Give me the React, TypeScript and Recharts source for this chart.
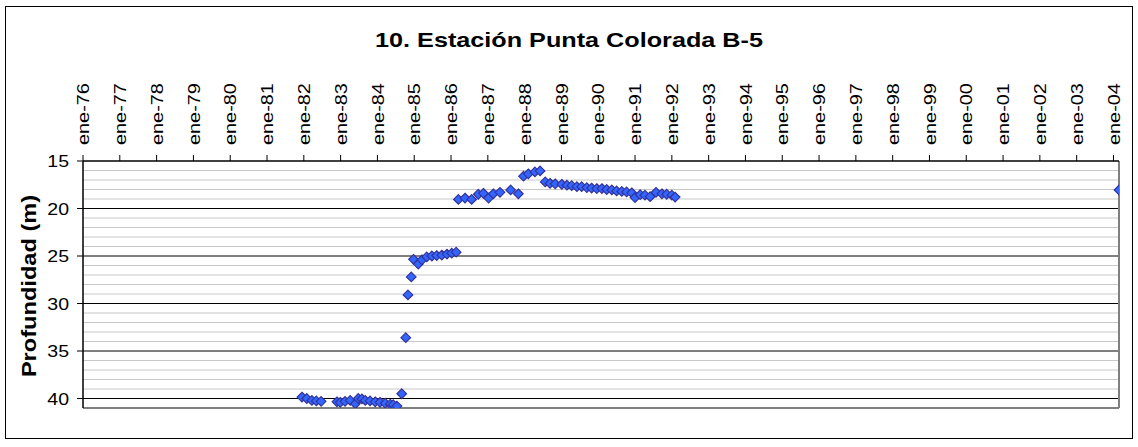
import React from "react";
import {
  ScatterChart,
  Scatter,
  XAxis,
  YAxis,
  ReferenceLine,
} from "recharts";

// fecha en años decimales
const fechas = [
  1981.95, 1982.08, 1982.22, 1982.34, 1982.47, 1982.9, 1982.99, 1983.12, 1983.26,
  1983.4, 1983.48, 1983.58, 1983.67, 1983.8, 1983.94, 1984.07, 1984.21, 1984.35,
  1984.43, 1984.53, 1984.66, 1984.77, 1984.83, 1984.92, 1984.98, 1985.11, 1985.21,
  1985.34, 1985.48, 1985.61, 1985.75, 1985.89, 1986.02, 1986.14, 1986.2, 1986.38,
  1986.56, 1986.74, 1986.88, 1987.02, 1987.15, 1987.33, 1987.62, 1987.83, 1987.97,
  1988.1, 1988.28, 1988.42, 1988.56, 1988.69, 1988.83, 1989.01, 1989.15, 1989.28,
  1989.42, 1989.55, 1989.69, 1989.82, 1989.96, 1990.1, 1990.23, 1990.37, 1990.5,
  1990.64, 1990.77, 1990.91, 1991.0, 1991.14, 1991.27, 1991.41, 1991.57, 1991.73,
  1991.86, 1992.0, 1992.09, 2004.15,
];

// profundidad del nivel (m)
const profundidades = [
  39.85, 40.0, 40.2, 40.25, 40.3, 40.35, 40.4, 40.3, 40.2, 40.55, 40.0, 40.05, 40.2,
  40.25, 40.35, 40.4, 40.5, 40.6, 40.65, 40.8, 39.5, 33.6, 29.1, 27.2, 25.35, 25.85,
  25.4, 25.1, 25.0, 24.95, 24.9, 24.8, 24.7, 24.6, 19.05, 18.9, 19.05, 18.5, 18.4,
  18.9, 18.45, 18.3, 18.05, 18.45, 16.6, 16.35, 16.15, 16.05, 17.2, 17.35, 17.4,
  17.45, 17.55, 17.6, 17.7, 17.7, 17.8, 17.85, 17.9, 17.9, 18.0, 18.05, 18.15, 18.2,
  18.25, 18.35, 18.85, 18.55, 18.6, 18.75, 18.3, 18.45, 18.5, 18.6, 18.8, 18.05,
];

const anios = [
  1976, 1977, 1978, 1979, 1980, 1981, 1982, 1983, 1984, 1985, 1986, 1987, 1988, 1989,
  1990, 1991, 1992, 1993, 1994, 1995, 1996, 1997, 1998, 1999, 2000, 2001, 2002, 2003,
  2004,
];

const ticksY = [15, 20, 25, 30, 35, 40];
const lineasMenores = [
  16, 17, 18, 19, 21, 22, 23, 24, 26, 27, 28, 29, 31, 32, 33, 34, 36, 37, 38, 39,
];
const lineasMayores = [20, 25, 30, 35, 40];

const datos = fechas.map((t, i) => ({ t, p: profundidades[i] }));

const FUENTE = "Arial, 'Liberation Sans', sans-serif";

const Rombo = (props: any) => {
  const { cx, cy } = props;
  const r = 4.8;
  return (
    <polygon
      points={`${cx},${cy - r} ${cx + r},${cy} ${cx},${cy + r} ${cx - r},${cy}`}
      fill="#3366FF"
      stroke="#333399"
      strokeWidth={1.2}
    />
  );
};

const TickFecha = (props: any) => {
  const { x, y, payload } = props;
  const yy = y - 8;
  return (
    <text
      x={0}
      y={0}
      transform={`translate(${x}, ${yy}) rotate(-90) scale(1.17, 1)`}
      textAnchor="start"
      dy="0.36em"
      fontSize={17}
      fontFamily={FUENTE}
      fill="#000"
    >
      {"ene-" + String(payload.value).slice(2)}
    </text>
  );
};

const TickProf = (props: any) => {
  const { x, y, payload } = props;
  return (
    <text
      x={0}
      y={0}
      transform={`translate(${x - 6}, ${y}) scale(1.15, 1)`}
      textAnchor="end"
      dy="0.36em"
      fontSize={17}
      fontFamily={FUENTE}
      fill="#000"
    >
      {payload.value}
    </text>
  );
};

export default function App() {
  return (
    <div
      style={{
        position: "absolute",
        left: 0,
        top: 0,
        width: 1138,
        height: 447,
        background: "#fff",
      }}
    >
      <div
        style={{
          position: "absolute",
          left: 5,
          top: 6,
          width: 1126,
          height: 431,
          border: "1px solid #000",
        }}
      />
      <div
        style={{
          position: "absolute",
          left: 0,
          top: 28,
          width: 1138,
          textAlign: "center",
          fontFamily: FUENTE,
          fontWeight: "bold",
          fontSize: 21,
          transform: "scaleX(1.2)",
        }}
      >
        10. Estación Punta Colorada B-5
      </div>
      <div
        style={{
          position: "absolute",
          left: 29,
          top: 286,
          transform: "translate(-50%, -50%) rotate(-90deg) scaleX(1.18)",
          whiteSpace: "nowrap",
          fontFamily: FUENTE,
          fontWeight: "bold",
          fontSize: 20,
        }}
      >
        Profundidad (m)
      </div>
      <ScatterChart
        width={1138}
        height={447}
        margin={{ top: 70, right: 19, bottom: 39, left: 0 }}
        style={{ position: "absolute", left: 0, top: 0 }}
      >
        <XAxis
          type="number"
          dataKey="t"
          orientation="top"
          domain={[1976, 2004.15]}
          ticks={anios}
          interval={0}
          height={91}
          tick={<TickFecha />}
          tickSize={6}
          axisLine={{ stroke: "#000", strokeWidth: 1.5 }}
          tickLine={{ stroke: "#000" }}
          allowDataOverflow
        />
        <YAxis
          type="number"
          dataKey="p"
          domain={[15, 41]}
          reversed
          ticks={ticksY}
          interval={0}
          width={83}
          tick={<TickProf />}
          tickSize={6}
          axisLine={{ stroke: "#000", strokeWidth: 1.5 }}
          tickLine={{ stroke: "#000" }}
          allowDataOverflow
        />
        {lineasMenores.map((v) => (
          <ReferenceLine key={"m" + v} y={v} stroke="#c8c8c8" strokeWidth={1} />
        ))}
        {lineasMayores.map((v) => (
          <ReferenceLine key={"M" + v} y={v} stroke="#000" strokeWidth={1} />
        ))}
        <ReferenceLine y={41} stroke="#808080" strokeWidth={2} />
        <ReferenceLine x={2004.15} stroke="#808080" strokeWidth={2} />
        <Scatter
          data={datos}
          shape={<Rombo />}
          isAnimationActive={false}
        />
      </ScatterChart>
    </div>
  );
}
